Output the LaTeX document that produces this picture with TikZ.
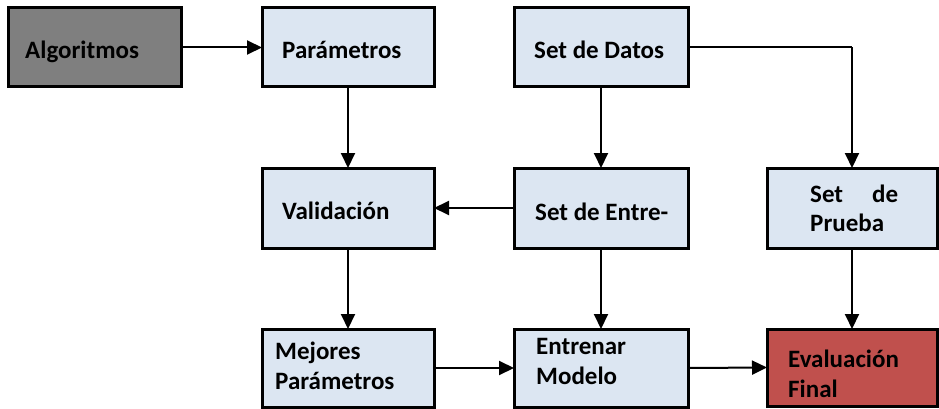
\documentclass[tikz,border=0pt]{standalone}
\usepackage{fontspec}
\setmainfont{Carlito}
\usetikzlibrary{arrows.meta}
\definecolor{boxblue}{HTML}{DCE6F2}
\definecolor{boxgray}{HTML}{7F7F7F}
\definecolor{boxred}{HTML}{C0504D}
\begin{document}
\begin{tikzpicture}[x=1pt,y=-1pt,
  bx/.style={draw=black, line width=3pt, rectangle, inner sep=0pt, outer sep=0pt},
  lbl/.style={anchor=base west, inner sep=0pt, font=\fontsize{25}{30}\selectfont\bfseries, text=black},
  arr/.style={line width=2pt, -{Triangle[length=15pt,width=14pt]}},
  ln/.style={line width=2pt}]
\useasboundingbox (0,0) rectangle (939,409);
% boxes
\node[bx, fill=boxgray, minimum width=173pt, minimum height=79pt] (alg) at (94.5,47.5) {};
\node[bx, fill=boxblue, minimum width=172pt, minimum height=79pt] (par) at (348,47.5) {};
\node[bx, fill=boxblue, minimum width=174pt, minimum height=79pt] (dat) at (601,47.5) {};
\node[bx, fill=boxblue, minimum width=172pt, minimum height=80pt] (val) at (348,208) {};
\node[bx, fill=boxblue, minimum width=174pt, minimum height=80pt] (ent) at (601,208) {};
\node[bx, fill=boxblue, minimum width=170pt, minimum height=80pt] (pru) at (852,208) {};
\node[bx, fill=boxblue, minimum width=172pt, minimum height=78pt] (mej) at (348,368) {};
\node[bx, fill=boxblue, minimum width=174pt, minimum height=78pt] (mod) at (601,368) {};
\node[bx, fill=boxred, minimum width=170pt, minimum height=77pt] (eva) at (852,367.5) {};
% labels
\node[lbl] (talg) at (25,59) {Algoritmos};
\node[lbl] (tpar) at (282,59) {Parámetros};
\node[lbl] (tdat) at (534,59) {Set de Datos};
\node[lbl] (tval) at (282,219) {Validación};
\node[lbl] (tent) at (535,220) {Set de Entre-};
\node[lbl] (tpru1) at (810,202) {\makebox[88pt][s]{Set de}};
\node[lbl] (tpru2) at (810,231) {Prueba};
\node[lbl] (tmej1) at (275,359) {Mejores};
\node[lbl] (tmej2) at (275,389) {Parámetros};
\node[lbl] (tmod1) at (536,354) {Entrenar};
\node[lbl] (tmod2) at (536,384) {Modelo};
\node[lbl] (teva1) at (788,367) {Evaluación};
\node[lbl] (teva2) at (788,397) {Final};
% connectors
\coordinate (corner) at (dat.east -| pru.north);
\draw[arr] (alg.east) -- (par.west);
\draw[arr] (par.south) -- (val.north);
\draw[arr] (dat.south) -- (ent.north);
\draw[ln] (dat.east) -- (corner);
\draw[arr] (corner) -- (pru.north);
\draw[arr] (ent.west) -- (val.east);
\draw[arr] (val.south) -- (mej.north);
\draw[arr] (ent.south) -- (mod.north);
\draw[arr] (pru.south) -- (eva.north);
\draw[arr] (mej.east) -- (mod.west);
\draw[arr] (mod.east) -- (eva.west);
\end{tikzpicture}
\end{document}
